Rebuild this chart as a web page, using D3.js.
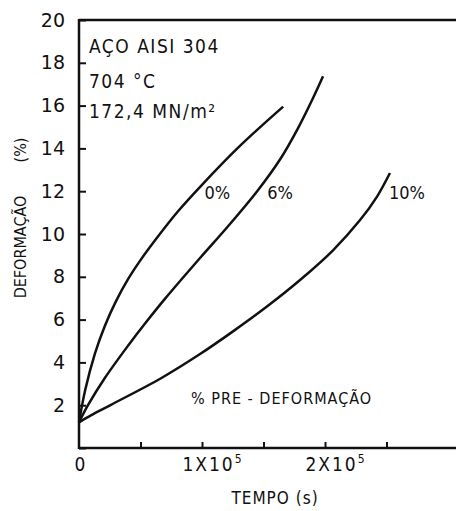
<!DOCTYPE html>
<html><head><meta charset="utf-8">
<script src="https://cdn.jsdelivr.net/npm/d3@7"></script>
<style>body{margin:0;background:#fff}svg{display:block}</style>
</head><body>
<svg id="c" width="456" height="511"></svg>
<script>
// time in units of 1e5 s, deformation in %
const t0 = [0, 0.05, 0.13, 0.21, 0.30, 0.40, 0.50, 0.62, 0.80, 1.00, 1.30, 1.66];
const d0 = [1.2, 2.7, 4.42, 5.70, 6.85, 7.90, 8.78, 9.72, 11.03, 12.30, 14.07, 15.95];
const t6 = [0, 0.073, 0.21, 0.40, 0.54, 0.70, 0.984, 1.21, 1.45, 1.634, 1.78, 1.90, 1.984];
const d6 = [1.2, 2.0, 3.27, 4.79, 5.84, 6.98, 8.88, 10.35, 12.01, 13.48, 14.94, 16.32, 17.37];
const t10 = [0, 0.1, 0.26, 0.667, 0.984, 1.252, 1.528, 1.797, 2.065, 2.285, 2.423, 2.528];
const d10 = [1.2, 1.54, 2.02, 3.26, 4.39, 5.45, 6.61, 7.85, 9.24, 10.65, 11.75, 12.85];
const seriesNames = ["0%", "6%", "10%"];
const yTicks = [0, 2, 4, 6, 8, 10, 12, 14, 16, 18, 20];
const yTickLabels = ["", "2", "4", "6", "8", "10", "12", "14", "16", "18", "20"];
const xTicks = [0, 1, 2];
const xTickLabels = ["0", "1X10", "2X10"];
const infoLines = ["AÇO AISI 304", "704 °C", "172,4 MN/m²"];

const svg = d3.select("#c");
const x = d3.scaleLinear().domain([0, 3.065]).range([79, 456]);
const y = d3.scaleLinear().domain([0, 20]).range([448, 20]);
const ink = "#111";
const cond = "DejaVu Sans Condensed, DejaVu Sans";

// frame
svg.append("line").attr("x1", x(0)).attr("x2", 456).attr("y1", y(20)).attr("y2", y(20)).attr("stroke", ink).attr("stroke-width", 2.5);
svg.append("line").attr("x1", x(0)).attr("x2", 456).attr("y1", y(0)).attr("y2", y(0)).attr("stroke", ink).attr("stroke-width", 2.5);
svg.append("line").attr("x1", x(0)).attr("x2", x(0)).attr("y1", y(0)+1).attr("y2", y(20)-1).attr("stroke", ink).attr("stroke-width", 2.5);

// y ticks + labels
const yAxis = d3.axisLeft(y).tickValues(yTicks).tickSize(-7).tickPadding(14)
  .tickFormat((d, i) => yTickLabels[i]);
const ga = svg.append("g").attr("transform", `translate(${x(0)},0)`).call(yAxis);
ga.select(".domain").remove();
ga.selectAll(".tick line").attr("stroke", ink).attr("stroke-width", 2);
ga.selectAll(".tick text").attr("font-family", "DejaVu Sans").attr("font-size", 19).attr("fill", ink);

// x ticks
const xAxis = d3.axisBottom(x).tickValues([0.5, 1, 1.5, 2, 2.5]).tickSize(-6).tickFormat("");
const gx = svg.append("g").attr("transform", `translate(0,${y(0)})`).call(xAxis);
gx.select(".domain").remove();
gx.selectAll(".tick line").attr("stroke", ink).attr("stroke-width", 2);

// x tick labels
const xl = svg.append("g");
xTicks.forEach((v, i) => {
  const tx = xl.append("text").attr("x", x(v) + (v > 0 ? 11 : 1)).attr("y", 471).attr("text-anchor", "middle")
    .attr("font-family", cond).attr("font-size", 19).attr("letter-spacing", v > 0 ? 2 : 0).attr("fill", ink);
  tx.append("tspan").text(xTickLabels[i]);
  if (v > 0) tx.append("tspan").attr("dy", -8).attr("font-size", 12).text("5");
});

// axis titles
svg.append("text").attr("x", 275).attr("y", 504).attr("text-anchor", "middle")
  .attr("font-family", cond).attr("font-size", 17).attr("fill", ink)
  .attr("letter-spacing", 1).text("TEMPO  (s)");
svg.append("text").attr("transform", "translate(26,247) rotate(-90)").attr("text-anchor", "middle")
  .attr("font-family", cond).attr("font-size", 16).attr("fill", ink)
  .text("DEFORMAÇÃO");
svg.append("text").attr("transform", "translate(26,150) rotate(-90)").attr("text-anchor", "middle")
  .attr("font-family", cond).attr("font-size", 16).attr("fill", ink)
  .text("(%)");

// info text
const infoY = [53, 88, 118];
infoLines.forEach((s, i) => {
  svg.append("text").attr("x", 89).attr("y", infoY[i])
    .attr("font-family", cond).attr("font-size", 19).attr("letter-spacing", 1.5).attr("fill", ink).text(s);
});

// curves
const line = d3.line().x(d => x(d[0])).y(d => y(d[1])).curve(d3.curveCatmullRom.alpha(0.5));
const data = [d3.zip(t0, d0), d3.zip(t6, d6), d3.zip(t10, d10)];
svg.append("g").selectAll("path").data(data).join("path")
  .attr("d", line).attr("fill", "none").attr("stroke", ink).attr("stroke-width", 2.5);

// series labels
const labPos = [[1.02, 11.65], [1.53, 11.65], [2.52, 11.65]];
seriesNames.forEach((s, i) => {
  svg.append("text").attr("x", x(labPos[i][0])).attr("y", y(labPos[i][1]))
    .attr("font-family", cond).attr("font-size", 18).attr("fill", ink).text(s);
});

// annotation
svg.append("text").attr("x", 191).attr("y", 404)
  .attr("font-family", cond).attr("font-size", 16).attr("letter-spacing", 1).attr("fill", ink)
  .text("% PRE - DEFORMAÇÃO");
</script>
</body></html>
